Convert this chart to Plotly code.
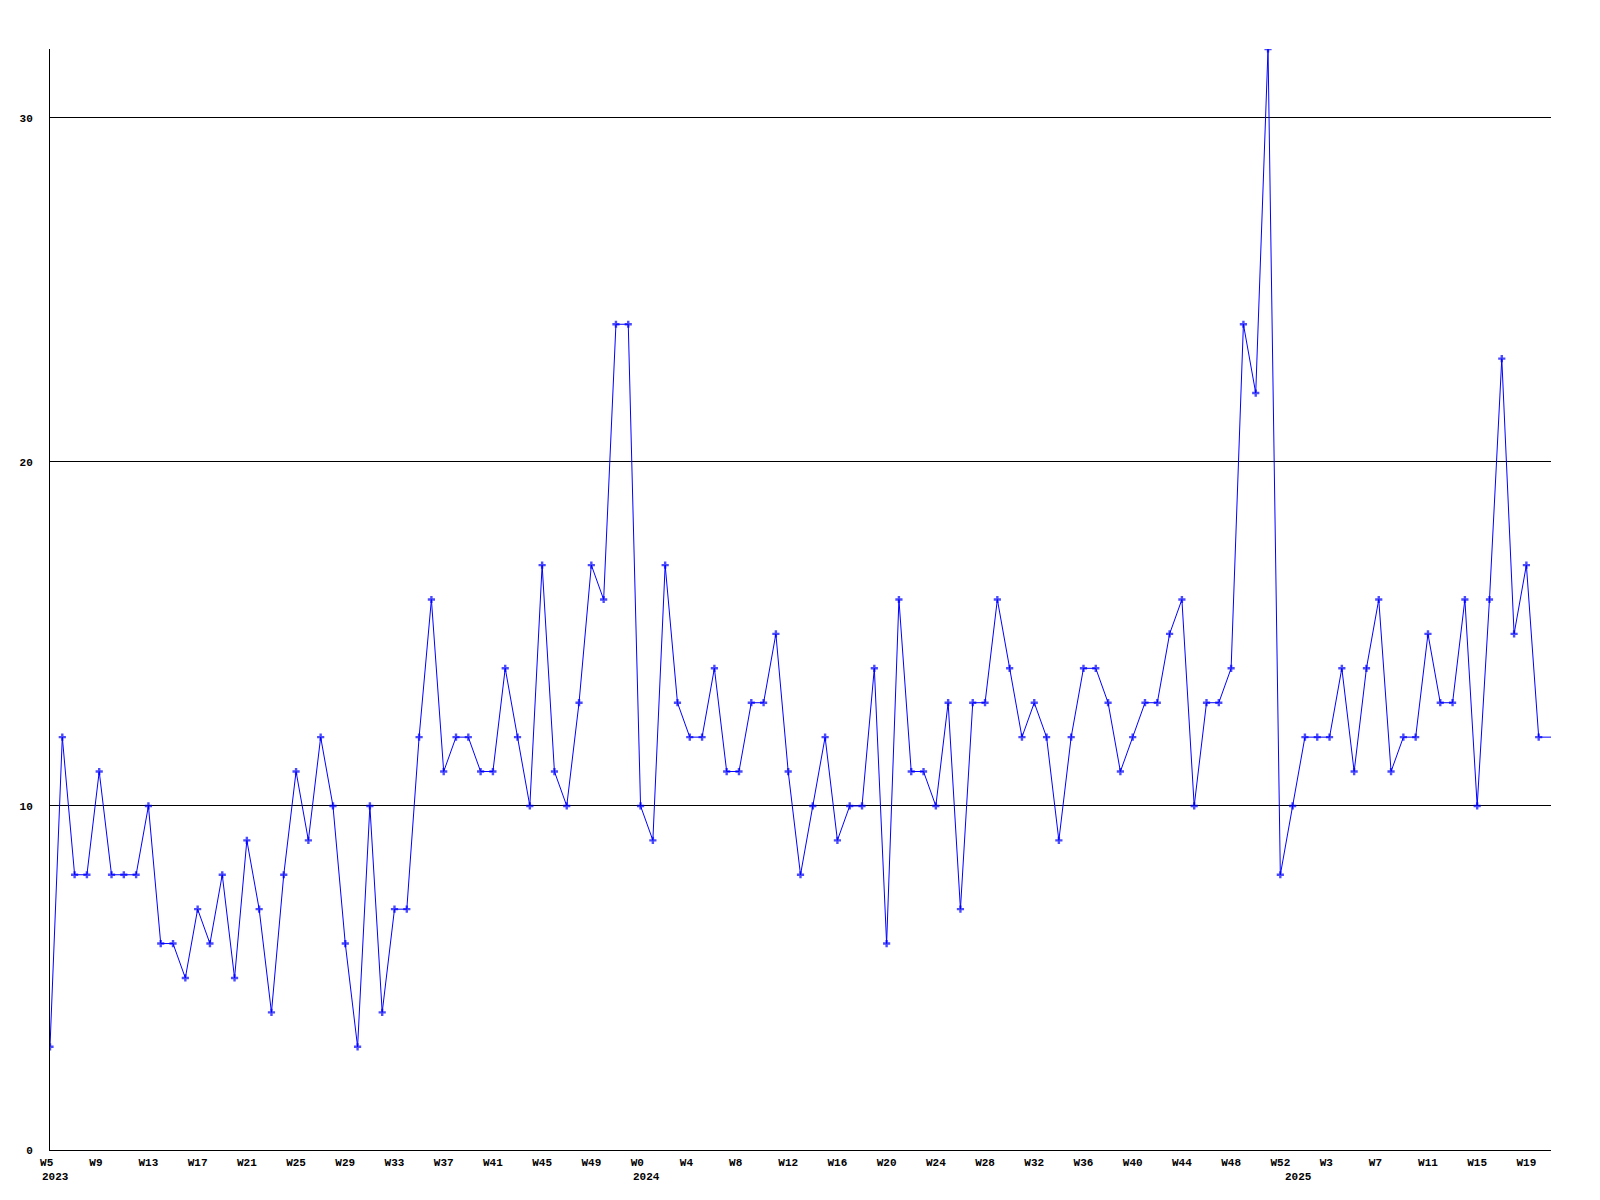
import plotly.graph_objects as go

# Week categories (year, week number as %U)
years = [2023] * 48 + [2024] * 53 + [2025] * 22
week_nums = list(range(5, 53)) + list(range(0, 53)) + list(range(0, 22))

# Weekly counts
values = [
    3, 12, 8, 8, 11, 8, 8, 8, 10, 6, 6, 5, 7, 6, 8, 5, 9, 7, 4, 8,
    11, 9, 12, 10, 6, 3, 10, 4, 7, 7, 12, 16, 11, 12, 12, 11, 11, 14, 12, 10,
    17, 11, 10, 13, 17, 16, 24, 24,
    10, 9, 17, 13, 12, 12, 14, 11, 11, 13, 13, 15, 11, 8, 10, 12, 9, 10, 10, 14,
    6, 16, 11, 11, 10, 13, 7, 13, 13, 16, 14, 12, 13, 12, 9, 12, 14, 14, 13, 11,
    12, 13, 13, 15, 16, 10, 13, 13, 14, 24, 22, 32, 8,
    10, 12, 12, 12, 14, 11, 14, 16, 11, 12, 12, 15, 13, 13, 16, 10, 16, 23, 15, 17,
    12, 12,
]

y_ticks = [0, 10, 20, 30]
tick_step = 4

idx = list(range(len(values)))
labels = [f"W{w}" for w in week_nums]
tick_vals = idx[::tick_step]
# labels are left-aligned in the original; pad short ones so they start at the same offset
tick_text = [t + "\u00a0" * (3 - len(t)) for t in labels[::tick_step]]

# last point is the partial (current) week: line drawn, no marker
marker_sizes = [6] * (len(values) - 1) + [0]

FONT = "Liberation Mono"

fig = go.Figure()
fig.add_trace(go.Scatter(
    x=idx, y=values, mode="lines+markers",
    line=dict(color="#0000ff", width=1),
    marker=dict(symbol="cross", size=marker_sizes, color="#0000ff",
                line=dict(width=0)),
    showlegend=False, hoverinfo="skip",
))

# year labels under the first week of each year
annotations = []
seen = set()
for i, yr in enumerate(years):
    if yr not in seen:
        seen.add(yr)
        annotations.append(dict(
            x=i, y=0, xref="x", yref="paper", text=str(yr),
            showarrow=False, xanchor="left", yanchor="top",
            xshift=-10, yshift=-19,
            font=dict(family=FONT, size=11, color="black", weight="bold"),
        ))

fig.update_layout(
    width=1592, height=1192,
    margin=dict(l=42, r=49, t=41, b=50, autoexpand=False),
    paper_bgcolor="white", plot_bgcolor="white",
    annotations=annotations,
    font=dict(family=FONT, size=11, color="black", weight="bold"),
)
fig.update_xaxes(
    range=[0, len(values) - 1], tickmode="array",
    tickvals=tick_vals, ticktext=tick_text,
    showgrid=False, zeroline=False, showline=True,
    linecolor="black", linewidth=1, ticks="", ticklabelstandoff=2,
    tickfont=dict(family=FONT, size=11, color="black", weight="bold"),
)
fig.update_yaxes(
    range=[0, 32], tickmode="array", tickvals=y_ticks,
    ticktext=[str(v) for v in y_ticks],
    showgrid=True, gridcolor="black", gridwidth=1,
    zeroline=False, showline=True, linecolor="black", linewidth=1,
    ticks="", ticklabelstandoff=14,
    tickfont=dict(family=FONT, size=11, color="black", weight="bold"),
)

fig.write_html("out.html")
